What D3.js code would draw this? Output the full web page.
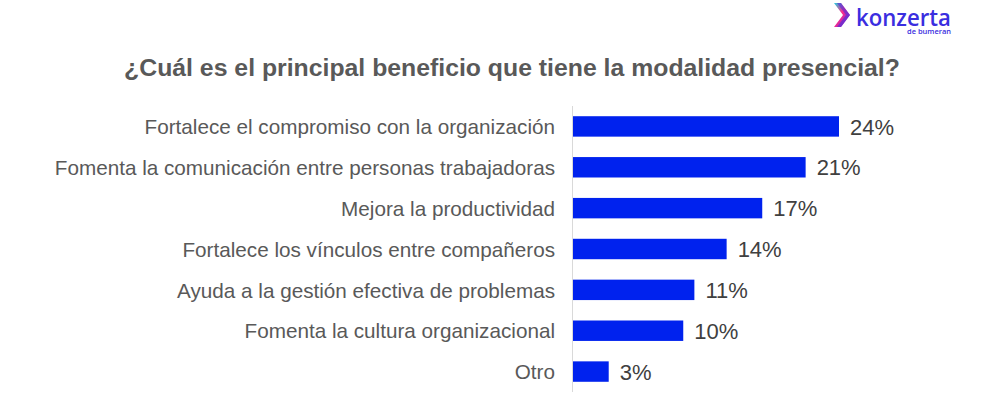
<!DOCTYPE html>
<html>
<head>
<meta charset="utf-8">
<script src="https://cdn.jsdelivr.net/npm/d3@7"></script>
<style>
  body { margin: 0; background: #fff; }
  svg { display: block; font-family: "Liberation Sans", Arial, sans-serif; }
</style>
</head>
<body>
<div class="chart"></div>
<script>
/* data */
const categories = [
    'Fortalece el compromiso con la organización',
    'Fomenta la comunicación entre personas trabajadoras',
    'Mejora la productividad',
    'Fortalece los vínculos entre compañeros',
    'Ayuda a la gestión efectiva de problemas',
    'Fomenta la cultura organizacional',
    'Otro'
]
const values = [24, 21, 17.1, 13.9, 11, 10, 3.3]
const valueLabels = ['24%', '21%', '17%', '14%', '11%', '10%', '3%']
const title = '¿Cuál es el principal beneficio que tiene la modalidad presencial?'

const width = 1001
const height = 394
const axisX = 572

const svg = d3.select('.chart')
    .append('svg')
    .attr('width', width)
    .attr('height', height)

const x = d3.scaleLinear()
    .domain([0, 24])
    .range([axisX, 839])

const y = d3.scaleBand()
    .domain(categories)
    .range([106, 392])
    .paddingInner(0.5)
    .paddingOuter(0.25)

// title
svg.append('text')
    .attr('x', 512)
    .attr('y', 76)
    .attr('text-anchor', 'middle')
    .style('font-size', '24.8px')
    .style('font-weight', 'bold')
    .style('fill', '#595959')
    .text(title)

// bars
svg.selectAll('.bar')
    .data(values)
    .enter()
    .append('rect')
    .attr('class', 'bar')
    .attr('x', x(0))
    .attr('y', (d, i) => y(categories[i]))
    .attr('width', d => x(d) - x(0))
    .attr('height', y.bandwidth())
    .style('fill', '#0022ee')

// category labels
svg.selectAll('.cat')
    .data(categories)
    .enter()
    .append('text')
    .attr('class', 'cat')
    .attr('x', 555)
    .attr('y', d => y(d) + y.bandwidth() / 2)
    .attr('dy', '0.37em')
    .attr('text-anchor', 'end')
    .style('font-size', '20.7px')
    .style('fill', '#595959')
    .text(d => d)

// value labels
svg.selectAll('.val')
    .data(values)
    .enter()
    .append('text')
    .attr('class', 'val')
    .attr('x', d => x(d) + 11)
    .attr('y', (d, i) => y(categories[i]) + y.bandwidth() / 2)
    .attr('dy', '0.37em')
    .style('font-size', '22px')
    .style('fill', '#404040')
    .text((d, i) => valueLabels[i])

// axis line
svg.append('line')
    .attr('x1', axisX + 0.5)
    .attr('x2', axisX + 0.5)
    .attr('y1', 106)
    .attr('y2', 392)
    .style('stroke', '#d9d9d9')
    .style('stroke-width', 1)

// logo
const defs = svg.append('defs')
const grad = defs.append('linearGradient')
    .attr('id', 'chev')
    .attr('x1', '0').attr('y1', '0').attr('x2', '1').attr('y2', '1')
grad.append('stop').attr('offset', '0').attr('stop-color', '#1fd3e0')
grad.append('stop').attr('offset', '0.45').attr('stop-color', '#ff2a8a')
grad.append('stop').attr('offset', '1').attr('stop-color', '#5a2be0')

const logo = svg.append('g').attr('transform', 'translate(834,3)')
logo.append('path')
    .attr('d', 'M0,0 L7,0 L16,12 L7,24 L0,24 L9,12 Z')
    .style('fill', 'url(#chev)')
logo.append('path')
    .attr('d', 'M3,0 L7,0 L16,12 L7,24 L3,24 L12,12 Z')
    .style('fill', '#4b2de0')
    .style('opacity', 0.6)
const logoText = logo.append('text')
    .style('font-family', '"Open Sans", sans-serif')
    .style('font-weight', '600')
    .style('fill', '#3a2ee0')
logoText.append('tspan')
    .attr('x', 22)
    .attr('y', 23)
    .attr('textLength', 95)
    .attr('lengthAdjust', 'spacingAndGlyphs')
    .style('font-size', '23px')
    .text('konzerta')
logoText.append('tspan')
    .attr('x', 73)
    .attr('y', 31)
    .attr('textLength', 44)
    .attr('lengthAdjust', 'spacingAndGlyphs')
    .style('font-size', '7.5px')
    .text('de bumeran')
</script>
</body>
</html>
